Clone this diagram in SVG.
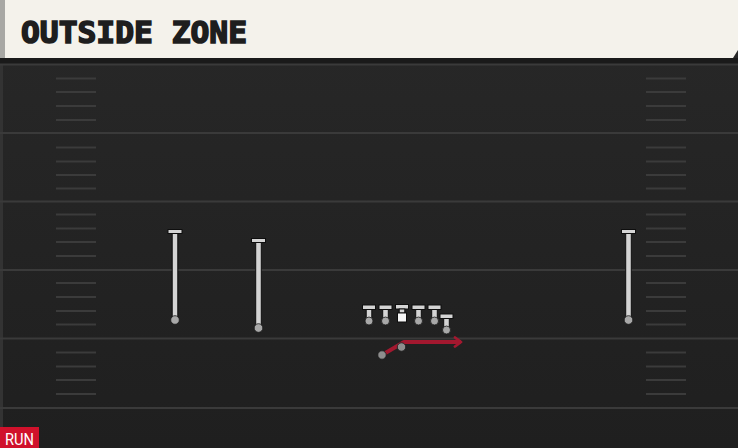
<svg xmlns="http://www.w3.org/2000/svg" width="738" height="448" viewBox="0 0 738 448">
<defs>
<linearGradient id="fieldGrad" x1="0" y1="0" x2="0" y2="1">
<stop offset="0" stop-color="#282828"/>
<stop offset="1" stop-color="#1f1f1f"/>
</linearGradient>
<marker id="arrow" viewBox="0 0 12 12" refX="9" refY="6" markerWidth="12" markerHeight="12" orient="auto" markerUnits="userSpaceOnUse">
<path d="M3,1.5 L9,6 L3,10.5" fill="none" stroke="#a3182f" stroke-width="2.8" stroke-linecap="round" stroke-linejoin="round"/>
</marker>
</defs>
<style>
.yard{stroke:#3a3a3a;stroke-width:2}
.hash{stroke:#3b3b3b;stroke-width:2}
.pl rect{fill:#d4d4d4;stroke:#0e0e0e;stroke-width:1}
.pl circle{fill:#a8a8a8;stroke:#1a1a1a;stroke-width:0.8}
.route{fill:none;stroke:#a3182f;stroke-width:3.8;stroke-linejoin:round}
.dot{fill:#8e8e8e;stroke:#1a1a1a;stroke-width:0.8}
</style>
<rect x="0" y="0" width="738" height="448" fill="url(#fieldGrad)"/>
<rect x="0" y="60" width="3" height="388" fill="#333"/>
<g id="header">
<rect x="0" y="58" width="738" height="6" fill="#1a1a1a"/>
<path d="M0,0 H738 V50 L733,58 H0 Z" fill="#f4f2eb"/>
<rect x="0" y="0" width="5" height="58" fill="#a8a8a4"/>
<text x="21" y="43" font-family="DejaVu Sans Mono, monospace" font-weight="bold" font-size="30" textLength="226" lengthAdjust="spacingAndGlyphs" fill="#1e1e1e" stroke="#1e1e1e" stroke-width="1.6">OUTSIDE ZONE</text>
</g>
<g id="field">
<line class="yard" x1="0" y1="64.5" x2="738" y2="64.5"/>
<line class="yard" x1="0" y1="133" x2="738" y2="133"/>
<line class="yard" x1="0" y1="201.5" x2="738" y2="201.5"/>
<line class="yard" x1="0" y1="270" x2="738" y2="270"/>
<line class="yard" x1="0" y1="338.5" x2="738" y2="338.5"/>
<line class="yard" x1="0" y1="408" x2="738" y2="408"/>
<g id="hashes">
<path class="hash" d="M56,78.5H96M56,92H96M56,106H96M56,120H96M56,147.5H96M56,161.5H96M56,175H96M56,188.5H96M56,214.5H96M56,228.5H96M56,242H96M56,256H96M56,283H96M56,297H96M56,311H96M56,324.5H96M56,352.5H96M56,366.5H96M56,380H96M56,394H96"/>
<path class="hash" d="M646,78.5H686M646,92H686M646,106H686M646,120H686M646,147.5H686M646,161.5H686M646,175H686M646,188.5H686M646,214.5H686M646,228.5H686M646,242H686M646,256H686M646,283H686M646,297H686M646,311H686M646,324.5H686M646,352.5H686M646,366.5H686M646,380H686M646,394H686"/>
</g>
</g>
<g id="wr1" class="pl">
<rect x="168" y="229.5" width="14" height="4"/>
<rect x="172.2" y="233.5" width="5.6" height="85.5"/>
<circle cx="175" cy="320" r="4.3"/>
</g>
<g id="wr2" class="pl">
<rect x="251.5" y="238.5" width="14" height="4"/>
<rect x="255.7" y="242.5" width="5.6" height="84.5"/>
<circle cx="258.5" cy="328" r="4.3"/>
</g>
<g id="wr3" class="pl">
<rect x="621.5" y="229.5" width="14" height="4"/>
<rect x="625.7" y="233.5" width="5.6" height="85.5"/>
<circle cx="628.5" cy="320" r="4.3"/>
</g>
<g id="lt" class="pl">
<rect x="362.5" y="305" width="13" height="4.5"/>
<rect x="366.2" y="309.5" width="5.6" height="10.5"/>
<circle cx="369" cy="321" r="4"/>
</g>
<g id="lg" class="pl">
<rect x="379" y="305" width="13" height="4.5"/>
<rect x="382.7" y="309.5" width="5.6" height="10.5"/>
<circle cx="385.5" cy="321" r="4"/>
</g>
<g id="c" class="pl">
<rect x="395.5" y="304.5" width="13" height="4.5"/>
<rect x="399.2" y="309" width="5.6" height="4"/>
<rect x="397.5" y="313" width="9" height="9" style="fill:#f6f6f6"/>
</g>
<g id="rg" class="pl">
<rect x="412" y="305" width="13" height="4.5"/>
<rect x="415.7" y="309.5" width="5.6" height="10.5"/>
<circle cx="418.5" cy="321" r="4"/>
</g>
<g id="rt" class="pl">
<rect x="428" y="305" width="13" height="4.5"/>
<rect x="431.7" y="309.5" width="5.6" height="10.5"/>
<circle cx="434.5" cy="321" r="4"/>
</g>
<g id="te" class="pl">
<rect x="440" y="314" width="13" height="4.5"/>
<rect x="443.7" y="318.5" width="5.6" height="10.5"/>
<circle cx="446.5" cy="330" r="4"/>
</g>
<g id="connectors">
<path class="route" d="M382,355 L404,342 H461" marker-end="url(#arrow)"/>
</g>
<g id="rb">
<circle class="dot" cx="382" cy="355" r="4.2"/>
</g>
<g id="qb">
<circle class="dot" cx="401.5" cy="347" r="4.2"/>
</g>
<g id="tag">
<rect x="0" y="427" width="39" height="21" fill="#d0112b"/>
<text x="5" y="444.5" font-family="Roboto, 'Liberation Sans', sans-serif" font-size="17" textLength="29" lengthAdjust="spacingAndGlyphs" fill="#ffffff">RUN</text>
</g>
</svg>
